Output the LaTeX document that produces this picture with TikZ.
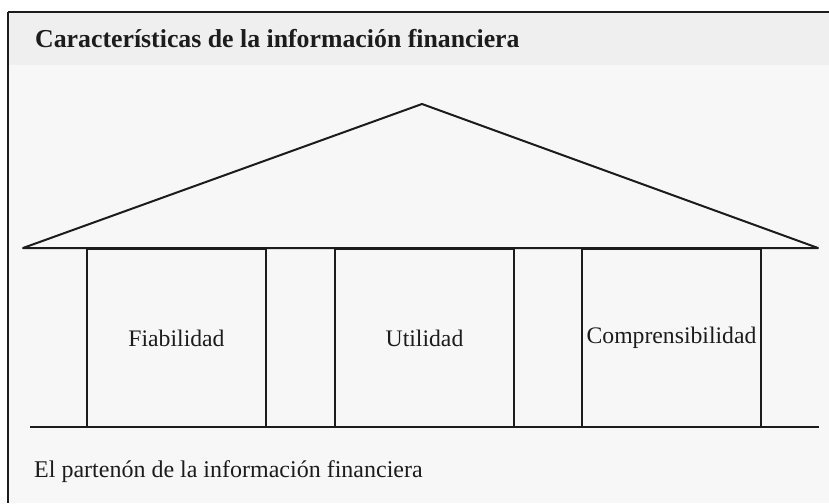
\documentclass[tikz,border=0pt]{standalone}
\usepackage{fontspec}
\setmainfont{Liberation Serif}
\usetikzlibrary{positioning}
\definecolor{cabecera}{HTML}{EFEFEF}
\definecolor{fondo}{HTML}{F7F7F7}
\definecolor{tinta}{HTML}{1C1C1C}

\begin{document}
\begin{tikzpicture}[x=1pt, y=-1pt]
    \tikzset{
        trazo/.style={draw=tinta, line width=2pt, line join=round}, % lineas del templo
        columna/.style={trazo, minimum width=179pt, minimum height=178pt,
            inner sep=0pt, outer sep=0pt, text=tinta,
            font=\fontsize{23.7}{28}\selectfont}, % cada columna con su nombre
        rotulo/.style={anchor=base west, text=tinta, inner sep=0pt}, % titulo y pie
    }

    \useasboundingbox (0,0) rectangle (829,503);
    \fill[fondo] (8,12) rectangle (829,503);
    \fill[cabecera] (8,12) rectangle (829,65);
    \draw[tinta, line width=2.5pt] (8,12) -- (829,12);
    \draw[tinta, line width=1.5pt] (8,12) -- (8,503);

    \node[rotulo, font=\bfseries\fontsize{25.8}{30}\selectfont] (titulo) at (35,48)
        {Características de la información financiera};

    % techo
    \coordinate (cumbre) at (422,104);
    \coordinate (aleroI) at (23,248);
    \coordinate (aleroD) at (818,248);
    \draw[trazo] (aleroI) -- (cumbre) -- (aleroD) -- cycle;

    % columnas
    \node[columna] (c1) at (176.5,338) {Fiabilidad};
    \node[columna, right=69pt of c1] (c2) {Utilidad};
    \node[columna, right=68pt of c2] (c3) {Comprensibilidad};

    % base
    \coordinate (baseI) at (30,427);
    \coordinate (baseD) at (819,427);
    \draw[trazo] (baseI) -- (baseD);

    \node[rotulo, font=\fontsize{24}{28}\selectfont] (pie) at (34,477)
        {El partenón de la información financiera};
\end{tikzpicture}
\end{document}
